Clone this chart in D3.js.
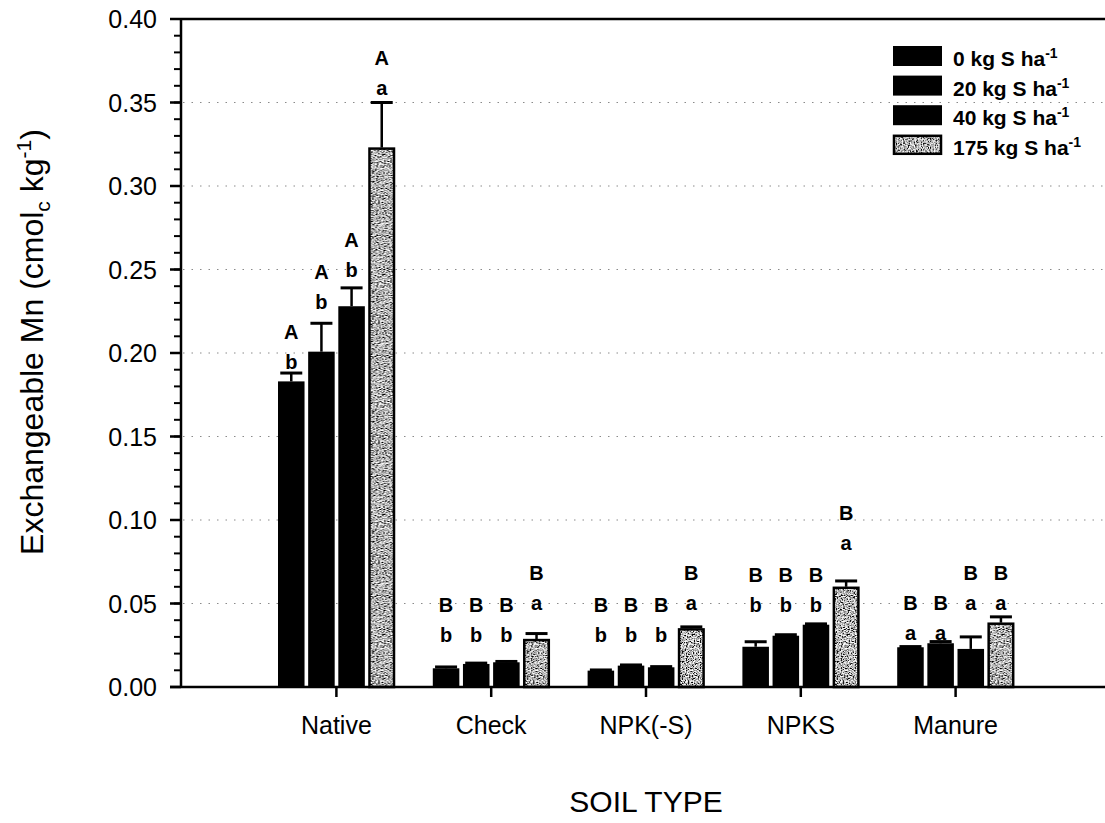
<!DOCTYPE html>
<html>
<head>
<meta charset="utf-8">
<script src="https://cdn.jsdelivr.net/npm/d3@7"></script>
<style>
  body { margin: 0; background: #fff; }
  text { font-family: "Liberation Sans", Arial, sans-serif; fill: #000; }
</style>
</head>
<body>
<div class="chart"></div>
<script>
//soil types along x and sulfur rates in each group
var soilTypes = ["Native", "Check", "NPK(-S)", "NPKS", "Manure"];
var rateLabels = ["0 kg S ha", "20 kg S ha", "40 kg S ha", "175 kg S ha"];

//mean exchangeable Mn, one array per S rate (same order as soilTypes)
var mean0   = [0.183, 0.0112, 0.0098, 0.0241, 0.0238];
var mean20  = [0.2008, 0.0138, 0.0128, 0.0307, 0.0262];
var mean40  = [0.228, 0.0148, 0.0118, 0.0373, 0.0228];
var mean175 = [0.323, 0.0287, 0.0351, 0.060, 0.0385];

//error (upper bar only)
var err0   = [0.005, 0.0008, 0.0004, 0.003, 0.0004];
var err20  = [0.017, 0.0005, 0.0004, 0.0006, 0.001];
var err40  = [0.011, 0.0005, 0.0004, 0.0005, 0.0072];
var err175 = [0.027, 0.0033, 0.0009, 0.0035, 0.0035];

//significance letters
var upper0   = ["A", "B", "B", "B", "B"];
var upper20  = ["A", "B", "B", "B", "B"];
var upper40  = ["A", "B", "B", "B", "B"];
var upper175 = ["A", "B", "B", "B", "B"];
var lower0   = ["b", "b", "b", "b", "a"];
var lower20  = ["b", "b", "b", "b", "a"];
var lower40  = ["b", "b", "b", "b", "a"];
var lower175 = ["a", "a", "a", "a", "a"];

//height (in Mn units) where the lower letter of each bar sits
var letterAt0   = [0.1904, 0.0269, 0.0269, 0.0449, 0.0281];
var letterAt20  = [0.2263, 0.0269, 0.0269, 0.0449, 0.0281];
var letterAt40  = [0.2455, 0.0269, 0.0269, 0.0449, 0.0461];
var letterAt175 = [0.3545, 0.0461, 0.0461, 0.0820, 0.0461];

//y axis ticks
var yTicks = [0, 0.05, 0.10, 0.15, 0.20, 0.25, 0.30, 0.35, 0.40];
var yMinor = d3.range(0, 41).map(function(i) { return i / 100; });

var means = [mean0, mean20, mean40, mean175];
var errs = [err0, err20, err40, err175];
var uppers = [upper0, upper20, upper40, upper175];
var lowers = [lower0, lower20, lower40, lower175];
var letterAts = [letterAt0, letterAt20, letterAt40, letterAt175];

//flat table for the bars
var rows = [];
soilTypes.forEach(function(s, i) {
    rateLabels.forEach(function(r, j) {
        rows.push({soil: s, rate: j, mean: means[j][i], err: errs[j][i],
                   up: uppers[j][i], low: lowers[j][i], at: letterAts[j][i]});
    });
});

var width = 1105, height = 823;
var plot = {left: 181, right: 1111, top: 19, bottom: 687};

var svg = d3.select(".chart").append("svg")
    .attr("width", width)
    .attr("height", height);

//speckled fill for the 175 kg bars
var defs = svg.append("defs");
var noise = defs.append("filter")
    .attr("id", "noise")
    .attr("x", 0).attr("y", 0)
    .attr("width", "100%").attr("height", "100%");
noise.append("feTurbulence")
    .attr("type", "fractalNoise")
    .attr("baseFrequency", 0.85)
    .attr("numOctaves", 2)
    .attr("seed", 4);
noise.append("feColorMatrix")
    .attr("type", "matrix")
    .attr("values", "3.4 0 0 0 -1.2  3.4 0 0 0 -1.2  3.4 0 0 0 -1.2  0 0 0 0 1");
var pat = defs.append("pattern")
    .attr("id", "speckle")
    .attr("patternUnits", "userSpaceOnUse")
    .attr("width", 120).attr("height", 120);
pat.append("rect")
    .attr("width", 120).attr("height", 120)
    .attr("filter", "url(#noise)");

//scales
var y = d3.scaleLinear()
    .domain([0, 0.4])
    .range([plot.bottom, plot.top]);

var x0 = d3.scaleBand()
    .domain(soilTypes)
    .range([plot.left + 78, plot.right - 78])
    .padding(0);

var x1 = d3.scaleBand()
    .domain(d3.range(rateLabels.length))
    .range([19, 136])
    .paddingInner(0.12)
    .paddingOuter(0);

//dotted grid lines
svg.append("g")
    .selectAll("line")
    .data(yTicks.slice(1, -1))
    .enter().append("line")
    .attr("x1", plot.left + 2)
    .attr("x2", width)
    .attr("y1", function(d) { return y(d); })
    .attr("y2", function(d) { return y(d); })
    .attr("stroke", "#8a8a8a")
    .attr("stroke-width", 1)
    .attr("stroke-dasharray", "1.5,7");

//bars
var groups = svg.append("g")
    .selectAll("g")
    .data(rows)
    .enter().append("g")
    .attr("transform", function(d) { return "translate(" + (x0(d.soil) + x1(d.rate)) + ",0)"; });

groups.append("rect")
    .attr("x", function(d) { return d.rate === 3 ? 1 : 0; })
    .attr("y", function(d) { return y(d.mean) + (d.rate === 3 ? 1 : 0); })
    .attr("width", function(d) { return x1.bandwidth() - (d.rate === 3 ? 2 : 0); })
    .attr("height", function(d) { return y(0) - y(d.mean) - (d.rate === 3 ? 1 : 0); })
    .attr("fill", function(d) { return d.rate === 3 ? "url(#speckle)" : "#000"; })
    .attr("stroke", function(d) { return d.rate === 3 ? "#000" : "none"; })
    .attr("stroke-width", 2.5);

//error bars
var bw = x1.bandwidth();
groups.append("line")
    .attr("x1", bw / 2).attr("x2", bw / 2)
    .attr("y1", function(d) { return y(d.mean); })
    .attr("y2", function(d) { return y(d.mean + d.err); })
    .attr("stroke", "#000")
    .attr("stroke-width", 2.5);
groups.append("line")
    .attr("x1", bw / 2 - 11).attr("x2", bw / 2 + 11)
    .attr("y1", function(d) { return y(d.mean + d.err); })
    .attr("y2", function(d) { return y(d.mean + d.err); })
    .attr("stroke", "#000")
    .attr("stroke-width", 3);

//letters above bars
groups.append("text")
    .attr("x", bw / 2)
    .attr("y", function(d) { return y(d.at); })
    .attr("text-anchor", "middle")
    .style("font-size", "20px")
    .style("font-weight", "bold")
    .text(function(d) { return d.low; });
groups.append("text")
    .attr("x", bw / 2)
    .attr("y", function(d) { return y(d.at) - 30; })
    .attr("text-anchor", "middle")
    .style("font-size", "20px")
    .style("font-weight", "bold")
    .text(function(d) { return d.up; });

//left axis with minor ticks
var yAxis = svg.append("g")
    .attr("transform", "translate(" + plot.left + ",0)");
yAxis.selectAll(".minor")
    .data(yMinor)
    .enter().append("line")
    .attr("x1", -7).attr("x2", 0)
    .attr("y1", function(d) { return y(d); })
    .attr("y2", function(d) { return y(d); })
    .attr("stroke", "#000")
    .attr("stroke-width", 2);
yAxis.selectAll(".major")
    .data(yTicks)
    .enter().append("line")
    .attr("x1", -11).attr("x2", 0)
    .attr("y1", function(d) { return y(d); })
    .attr("y2", function(d) { return y(d); })
    .attr("stroke", "#000")
    .attr("stroke-width", 2.5);
yAxis.selectAll("text")
    .data(yTicks)
    .enter().append("text")
    .attr("x", -24)
    .attr("y", function(d) { return y(d); })
    .attr("dy", "0.36em")
    .attr("text-anchor", "end")
    .style("font-size", "25px")
    .text(function(d) { return d3.format(".2f")(d); });
yAxis.append("line")
    .attr("x1", 0).attr("x2", 0)
    .attr("y1", plot.top).attr("y2", plot.bottom)
    .attr("stroke", "#000")
    .attr("stroke-width", 2.5);

//top frame line
svg.append("line")
    .attr("x1", plot.left).attr("x2", width)
    .attr("y1", plot.top).attr("y2", plot.top)
    .attr("stroke", "#000")
    .attr("stroke-width", 2.5);

//bottom axis
var xAxis = svg.append("g")
    .attr("transform", "translate(0," + plot.bottom + ")")
    .call(d3.axisBottom(x0).tickSize(10).tickSizeOuter(0));
xAxis.select(".domain").remove();
xAxis.selectAll(".tick line").attr("stroke-width", 2.5);
xAxis.selectAll(".tick text")
    .attr("y", 47)
    .attr("dy", 0)
    .style("font-size", "25px")
    .style("font-family", "'Liberation Sans', Arial, sans-serif");
xAxis.append("line")
    .attr("x1", plot.left - 11).attr("x2", width)
    .attr("y1", 0).attr("y2", 0)
    .attr("stroke", "#000")
    .attr("stroke-width", 2.5);

//axis titles
var yTitle = svg.append("text")
    .attr("transform", "translate(43," + 342 + ") rotate(-90)")
    .attr("text-anchor", "middle")
    .style("font-size", "32px");
yTitle.append("tspan").text("Exchangeable Mn (cmol");
yTitle.append("tspan").attr("dy", 7).style("font-size", "21px").text("c");
yTitle.append("tspan").attr("dy", -7).text(" kg");
yTitle.append("tspan").attr("dy", -12).style("font-size", "21px").text("-1");
yTitle.append("tspan").attr("dy", 12).text(")");

svg.append("text")
    .attr("x", (plot.left + plot.right) / 2)
    .attr("y", 812)
    .attr("text-anchor", "middle")
    .style("font-size", "30px")
    .text("SOIL TYPE");

//legend
var legend = svg.append("g")
    .attr("transform", "translate(893,46)");
var item = legend.selectAll("g")
    .data(rateLabels)
    .enter().append("g")
    .attr("transform", function(d, i) { return "translate(0," + (i * 29.6) + ")"; });
item.append("rect")
    .attr("x", function(d, i) { return i === 3 ? 1 : 0; })
    .attr("y", function(d, i) { return i === 3 ? 1 : 0; })
    .attr("width", function(d, i) { return i === 3 ? 47 : 49; })
    .attr("height", function(d, i) { return i === 3 ? 18 : 20; })
    .attr("fill", function(d, i) { return i === 3 ? "url(#speckle)" : "#000"; })
    .attr("stroke", function(d, i) { return i === 3 ? "#000" : "none"; })
    .attr("stroke-width", 2.5);
var itemText = item.append("text")
    .attr("x", 60)
    .attr("y", 20)
    .style("font-size", "21px")
    .style("font-weight", "bold");
itemText.append("tspan").text(function(d) { return d; });
itemText.append("tspan")
    .attr("dy", -8)
    .style("font-size", "14px")
    .text("-1");
</script>
</body>
</html>
